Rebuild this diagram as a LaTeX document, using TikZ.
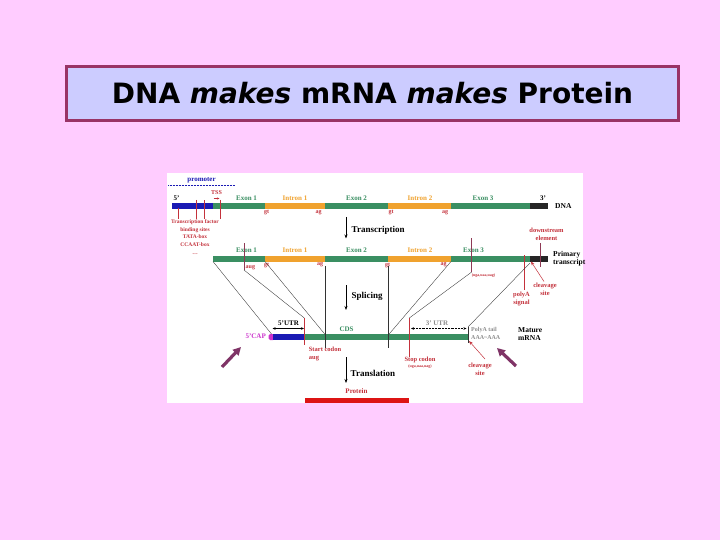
\documentclass[tikz,border=0pt]{standalone}
\usepackage{fontspec}
\setmainfont{Liberation Serif}
\newfontfamily\titlefont{DejaVu Sans}
\usepackage{xcolor}
\definecolor{SlidePink}{HTML}{FFCCFF}
\definecolor{TitleFill}{HTML}{CCCCFF}
\definecolor{TitleEdge}{HTML}{993366}
\definecolor{GeneExon}{HTML}{3A8F62}
\definecolor{GeneIntron}{HTML}{F0A22E}
\definecolor{GenePromoter}{HTML}{1A1AB4}
\definecolor{GeneTail}{HTML}{262626}
\definecolor{GeneCap}{HTML}{CC33CC}
\definecolor{GeneRed}{HTML}{C4323C}
\definecolor{GeneMarker}{HTML}{8E3A55}
\definecolor{GeneProtein}{HTML}{DD1414}
\definecolor{GeneGrey}{HTML}{8C8C8C}
\definecolor{OverlayArrow}{HTML}{7F3366}
\usepackage{tikz}
\usetikzlibrary{arrows.meta,calc,positioning}

\begin{document}
\begin{tikzpicture}[x=1pt,y=-1pt,
    titlebox/.style={draw=TitleEdge,fill=TitleFill,line width=3pt,minimum width=612pt,minimum height=54pt,
      font=\titlefont\bfseries\fontsize{28}{32}\selectfont},
    part/.style={font=\bfseries\fontsize{7}{7.5}\selectfont,inner sep=0pt},
    site/.style={font=\bfseries\fontsize{6}{6.5}\selectfont,color=GeneRed,inner sep=0pt},
    note/.style={font=\bfseries\fontsize{6.5}{8.2}\selectfont,color=GeneRed,inner sep=0pt,align=center},
    tiny/.style={font=\bfseries\fontsize{4}{4.5}\selectfont,color=GeneRed,inner sep=0pt},
    stage/.style={font=\bfseries\fontsize{9}{10}\selectfont,anchor=west,inner sep=0pt},
    molecule/.style={font=\bfseries\fontsize{7.5}{8.3}\selectfont,anchor=west,inner sep=0pt,align=left},
    flow/.style={-{Stealth[length=4pt,width=3pt]},line width=.6pt},
    guide/.style={line width=.35pt,color=black!80},
    marker/.style={line width=.6pt,color=GeneMarker},
    pin/.style={line width=.4pt,color=GeneRed},
    pointer/.style={-{Stealth[length=4pt,width=3pt]},line width=.5pt,color=GeneRed},
    span/.style={{Stealth[length=3pt,width=2.5pt]}-{Stealth[length=3pt,width=2.5pt]},line width=.45pt},
    overlay/.style={-{Triangle[length=8pt,width=8pt]},line width=3.2pt,color=OverlayArrow}
  ]
    \useasboundingbox (0,0) rectangle (720,540);
    \fill[SlidePink] (0,0) rectangle (720,540);

    % title
    \node[titlebox] (title) at (372.5,93.5) {DNA \textit{makes} mRNA \textit{makes} Protein};

    % diagram panel
    \fill[white] (167,173) rectangle (583,403);

    % DNA
    \node[part,color=GenePromoter] (promoter) at (201.5,180) {promoter};
    \draw[GenePromoter,densely dotted,line width=.5pt] (168,185) -- (235,185);
    \foreach \a/\b/\c in {172/213/GenePromoter,213/265/GeneExon,265/325/GeneIntron,325/388/GeneExon,
        388/451/GeneIntron,451/530/GeneExon,530/548/GeneTail}
      \fill[fill=\c] (\a,203.3) rectangle (\b,208.7);
    \node[part] (dnaFive) at (176.5,198) {5'};
    \node[part] (dnaThree) at (543,198) {3'};
    \node[molecule] (dna) at (555,206) {DNA};
    \foreach \x/\t/\c [count=\i] in {246.5/Exon 1/GeneExon,295/Intron 1/GeneIntron,356.5/Exon 2/GeneExon,
        420/Intron 2/GeneIntron,483/Exon 3/GeneExon}
      \node[part,color=\c] (dnaPart\i) at (\x,198) {\t};
    \foreach \x/\t [count=\i] in {266.5/gt,318.5/ag,391/gt,445/ag}
      \node[site] (dnaSite\i) at (\x,212.5) {\t};

    % promoter elements
    \node[site] (tss) at (216.5,192.5) {TSS};
    \draw[-{Stealth[length=2.5pt,width=2pt]},GeneRed,line width=.5pt] (213.5,198.5) -- (219.5,198.5);
    \node[note,anchor=north,font=\bfseries\fontsize{5.5}{7.7}\selectfont] (tfsites) at (195,219.5)
      {Transcription factor\\binding sites\\TATA-box\\CCAAT-box\\\dots};
    \coordinate (tfA) at (178.5,208.5);
    \coordinate (tfB) at (196,200);
    \coordinate (tfC) at (204,200.5);
    \coordinate (tssPin) at (220,200);
    \foreach \p in {tfA,tfB,tfC,tssPin}
      \draw[pin] (\p) -- (\p |- tfsites.north);

    % transcription
    \draw[flow] (346,217) coordinate (trTop) -- (346,238.5) coordinate (trEnd);
    \node[stage] (transcription) at (351.5,230) {Transcription};

    % primary transcript
    \foreach \a/\b/\c in {213/265/GeneExon,265/325/GeneIntron,325/388/GeneExon,
        388/451/GeneIntron,451/530/GeneExon,530/548/GeneTail}
      \fill[fill=\c] (\a,256.3) rectangle (\b,261.7);
    \foreach \x/\t/\c [count=\i] in {246.5/Exon 1/GeneExon,295/Intron 1/GeneIntron,356.5/Exon 2/GeneExon,
        420/Intron 2/GeneIntron,473.5/Exon 3/GeneExon}
      \node[part,color=\c] (prePart\i) at (\x,250.5) {\t};
    \foreach \x/\t [count=\i] in {266.5/gt,320/ag,387.5/gt,443.5/ag}
      \node[site] (preSite\i) at (\x,265) {\t};
    \node[molecule] (primary) at (553,258.5) {Primary\\transcript};

    \draw[marker] (244,243) coordinate (augTop) -- (244,270) coordinate (pAug);
    \node[site,anchor=west] (aug) at (245.5,268) {aug};
    \draw[marker] (471.7,238) coordinate (stopTop) -- (471.7,272) coordinate (pStop);
    \node[tiny] (preStop) at (483.5,276) {(uga,uaa,uag)};
    \node[note] (downstream) at (546.5,234.5) {downstream\\element};
    \draw[marker] (downstream.south -| 540,0) ++(0,2) -- (540,266.5);
    \draw[pin] (524.3,255) coordinate (polyTop) -- (524.3,290) coordinate (polyEnd);
    \node[note,anchor=north] (polysignal) at (521.5,292) {polyA\\signal};
    \node[note,anchor=north] (cleavePre) at (545,282.5) {cleavage\\site};
    \coordinate (pCleave) at (531,261.5);
    \draw[pointer] (cleavePre.north) ++(-1,-1) -- (pCleave);

    % splicing
    \draw[flow] (346,285) -- (346,310);
    \node[stage] (splicing) at (351.5,296) {Splicing};

    % mature mRNA
    \fill[GeneCap,rounded corners=1.5pt] (268.5,334) rectangle (274.5,340);
    \fill[GenePromoter] (273,334.3) rectangle (304.3,339.7);
    \fill[GeneExon] (304.3,334.3) rectangle (468,339.7);
    \node[part,color=GeneCap,anchor=east] (cap) at (266,336.5) {5'CAP};
    \node[part] (utrFive) at (288.5,323.5) {5'UTR};
    \draw[span] (272.5,328.5) coordinate (utrA) -- (304,328.5) coordinate (utrB);
    \node[part,color=GeneExon] (cds) at (346.5,329.5) {CDS};
    \node[part,color=GeneGrey] (utrThree) at (437,323.5) {3' UTR};
    \draw[span,densely dotted] (411,328.5) coordinate (utrC) -- (466.5,328.5) coordinate (utrD);
    \node[part,color=GeneGrey,anchor=west,align=left,font=\bfseries\fontsize{6}{8.4}\selectfont]
      (polytail) at (471,333.5) {PolyA tail\\AAA\textasciitilde AAA};
    \node[molecule] (mature) at (518,334) {Mature\\mRNA};

    \draw[pin] (304.3,318) coordinate (mAug) -- (304.3,345);
    \node[note,anchor=north] (startcodon) at (325,347) {Start codon\\\hspace*{-22pt}aug};
    \draw[pin] (409.3,318) coordinate (mStop) -- (409.3,356.5);
    \node[note,anchor=north] (stopcodon) at (420,356.5) {Stop codon\\[-1.5pt]{\fontsize{4}{4.5}\selectfont(uga,uaa,uag)}};
    \draw[guide] (468,327) coordinate (mCleave) -- (468,343);
    \node[note,anchor=north] (cleaveMat) at (480,363) {cleavage\\site};
    \draw[pointer] (cleaveMat.north) ++(5,-4) -- (469,341);

    % splice guides
    \coordinate (pStart) at (213,261.5);
    \coordinate (pExonEnd) at (265,261.5);
    \coordinate (pExonThree) at (451,261.5);
    \coordinate (pEnd) at (530,263);
    \coordinate (mStart) at (271.5,334);
    \coordinate (mExonTwo) at (325.5,335);
    \coordinate (mExonThree) at (388.3,335);
    \draw[guide] (pStart) -- (mStart);
    \draw[guide] (pAug) -- (mAug);
    \draw[guide] (pExonEnd) -- (mExonTwo);
    \draw[guide] (pExonThree) -- (mExonThree);
    \draw[guide] (pStop) -- (mStop);
    \draw[guide] (pEnd) -- (mCleave);
    \draw[guide] (325,266) -- (325,348);
    \draw[guide] (388.3,266) -- (388.3,348);

    % translation
    \draw[flow] (346,357) -- (346,383);
    \node[stage] (translation) at (350.5,373.5) {Translation};
    \node[part,color=GeneRed] (protein) at (356.5,391.5) {Protein};
    \fill[GeneProtein] (305,397.5) rectangle (409.3,402.5);

    % slide pointers
    \coordinate (capTail) at (222,367);
    \coordinate (tailTail) at (516,366);
    \draw[overlay] (capTail) -- (241,347);
    \draw[overlay] (tailTail) -- (497,348);
  \end{tikzpicture}
\end{document}
